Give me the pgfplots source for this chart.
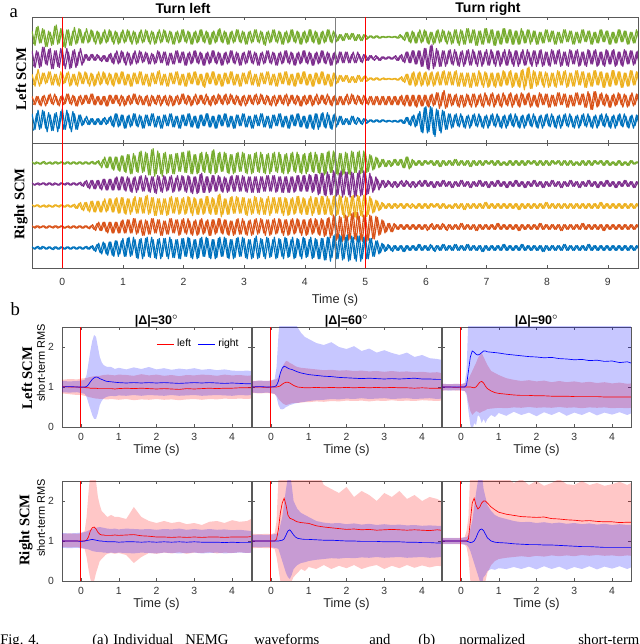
\documentclass[border=0pt]{standalone}
\usepackage{fontspec}
\setmainfont{Liberation Sans}
\newfontfamily\tnr{Liberation Serif}
\usepackage{pgfplots}
\usepackage{pgfplotstable}
\pgfplotsset{compat=1.18}
\usepgfplotslibrary{fillbetween}

\definecolor{cg}{rgb}{0.466,0.674,0.188}
\definecolor{cp}{rgb}{0.494,0.184,0.556}
\definecolor{cy}{rgb}{0.929,0.694,0.125}
\definecolor{co}{rgb}{0.850,0.325,0.098}
\definecolor{cb}{rgb}{0,0.447,0.741}

% EMG traces (px about each baseline), Left SCM; second set sits half a step later
\pgfplotstableread{
t gr pu ye or bl g2 p2 y2 o2 b2
-0.50 5 6 4 3 6 -6 -7 -5 -4 -8
-0.45 -7 -8 -6 -4 -7 8 6 4 3 6
-0.40 9 5 8 3 9 -5 -8 -6 -4 -7
-0.35 -5 -7 -4 -5 -6 7 9 5 3 9
-0.30 6 9 5 4 8 -8 -5 -4 -5 -6
-0.25 -8 -6 -3 -3 -9 5 7 6 4 7
-0.20 4 8 6 5 5 -7 -9 -5 -3 -8
-0.15 -6 -9 -5 -4 -8 9 6 4 5 6
-0.10 10 6 4 3 7 -6 -7 -5 -4 -9
-0.05 -5 -8 -6 -5 -6 7 8 6 3 8
0.00 7 7 5 4 10 -8 -6 -4 -4 -7
0.05 -9 -9 -3 -3 -7 6 8 5 5 9
0.10 6 5 6 5 6 -7 -9 -6 -3 -6
0.15 -7 -8 -5 -4 -9 5 6 4 4 8
0.20 8 7 4 3 6 -6 -8 -5 -5 -7
0.25 -5 -6 -6 -5 -7 7 5 6 3 5
0.30 6 8 5 4 5 -5 -6 -4 -4 -4
0.35 -5 -4 -4 -3 -3 4 3 6 4 2
0.40 7 3 5 4 4 -5 -2 -4 -3 -3
0.45 -4 -2 -6 -3 -3 6 3 5 5 2
0.50 5 3 4 5 2 -4 -2 -6 -4 -3
0.55 -6 -2 -5 -4 -3 5 3 4 3 2
0.60 4 2 6 3 2 -6 -2 -5 -4 -3
0.65 -5 -3 -4 -4 -3 4 2 6 3 2
0.70 6 2 5 3 3 -5 -3 -4 -5 -3
0.75 -4 -3 -5 -5 -2 6 3 5 4 3
0.80 5 4 4 4 4 -4 -4 -5 -3 -4
0.85 -6 -5 -6 -3 -5 5 4 5 4 6
0.90 4 6 5 4 6 -6 -5 -4 -3 -5
0.95 -5 -4 -4 -5 -4 4 6 6 4 5
1.00 6 5 6 3 5 -5 -4 -5 -5 -6
1.05 -4 -6 -5 -4 -6 6 5 4 3 4
1.10 5 4 4 4 5 -4 -6 -6 -4 -5
1.15 -6 -5 -6 -3 -4 5 4 5 5 6
1.20 4 6 5 5 6 -6 -5 -4 -3 -4
1.25 -5 -4 -4 -4 -5 4 6 6 4 5
1.30 6 5 6 3 4 -5 -4 -5 -4 -6
1.35 -4 -3 -5 -4 -6 6 5 4 3 5
1.40 5 4 4 4 5 -4 -5 -6 -5 -4
1.45 -6 -5 -6 -5 -4 5 4 5 4 6
1.50 4 3 5 3 6 -6 -5 -4 -3 -5
1.55 -5 -4 -4 -4 -5 4 6 6 4 4
1.60 6 5 7 4 4 -5 -4 -5 -5 -6
1.65 -4 -4 -5 -3 -6 6 5 4 3 5
1.70 5 5 4 4 5 -4 -6 -6 -4 -4
1.75 -5 -6 -6 -5 -4 5 4 5 4 6
1.80 4 4 5 3 6 -6 -5 -4 -5 -5
1.85 -6 -5 -4 -4 -5 4 6 6 3 4
1.90 5 6 6 4 4 -5 -4 -5 -4 -6
1.95 -4 -4 -5 -3 -6 6 5 4 5 5
2.00 6 5 4 5 5 -4 -6 -6 -3 -4
2.05 -5 -6 -6 -4 -4 5 4 5 4 6
2.10 4 5 5 3 6 -6 -5 -4 -5 -5
2.15 -6 -4 -4 -4 -5 4 6 6 3 4
2.20 5 6 6 5 4 -5 -4 -5 -4 -6
2.25 -4 -5 -5 -3 -6 6 5 4 4 5
2.30 6 4 4 4 5 -4 -6 -6 -3 -4
2.35 -5 -6 -7 -4 -4 5 4 5 5 6
2.40 4 5 5 3 6 -6 -5 -4 -4 -5
2.45 -6 -4 -4 -5 -5 4 6 6 3 4
2.50 5 6 6 4 4 -5 -4 -5 -4 -6
2.55 -4 -5 -5 -3 -6 6 5 4 5 5
2.60 7 4 4 4 5 -4 -6 -6 -3 -4
2.65 -5 -6 -6 -4 -4 5 4 5 4 6
2.70 4 5 5 5 6 -6 -5 -4 -4 -5
2.75 -6 -4 -4 -3 -5 4 6 6 5 4
2.80 5 6 6 4 4 -5 -4 -5 -3 -6
2.85 -4 -5 -5 -4 -6 6 5 4 4 5
2.90 6 4 4 3 5 -4 -6 -6 -4 -4
2.95 -5 -6 -6 -5 -4 5 4 5 3 6
3.00 4 5 5 4 6 -6 -5 -4 -5 -5
3.05 -6 -4 -4 -3 -5 4 6 6 4 4
3.10 5 6 7 4 4 -5 -4 -5 -3 -6
3.15 -4 -5 -5 -4 -6 6 5 4 4 5
3.20 6 4 4 5 5 -4 -6 -6 -4 -4
3.25 -5 -6 -6 -3 -4 5 4 5 5 6
3.30 4 5 5 4 6 -6 -5 -4 -3 -5
3.35 -7 -4 -4 -4 -5 4 6 6 4 4
3.40 5 6 6 3 4 -5 -4 -5 -4 -6
3.45 -4 -5 -5 -5 -6 6 5 4 3 5
3.50 6 4 4 4 5 -4 -6 -6 -5 -4
3.55 -5 -6 -6 -3 -4 5 4 5 4 6
3.60 4 5 5 4 6 -6 -5 -4 -3 -5
3.65 -6 -4 -4 -4 -5 4 6 6 4 4
3.70 5 6 6 5 4 -5 -4 -5 -5 -6
3.75 -4 -5 -5 -3 -6 6 5 4 4 5
3.80 6 4 4 4 5 -4 -6 -6 -3 -4
3.85 -5 -6 -6 -4 -4 5 4 5 4 6
3.90 4 5 5 3 6 -6 -5 -4 -5 -5
3.95 -6 -4 -4 -5 -5 4 6 6 3 4
4.00 5 6 6 4 4 -5 -4 -5 -4 -6
4.05 -4 -5 -5 -3 -6 6 5 4 4 5
4.10 6 4 4 4 5 -4 -6 -6 -5 -6
4.15 -5 -6 -6 -4 -7 5 4 5 3 6
4.20 4 5 5 5 6 -6 -5 -4 -4 -7
4.25 -6 -4 -4 -3 -5 4 6 6 4 6
4.30 5 6 6 4 7 -5 -4 -5 -3 -5
4.35 -4 -5 -5 -4 -6 6 5 4 5 7
4.40 6 4 4 3 5 -4 -6 -6 -4 -6
4.45 -5 -6 -6 -5 -7 5 4 5 3 5
4.50 4 5 5 4 6 -4 -5 -4 -4 -5
4.55 -3 -4 -3 -4 -3 2 5 3 3 4
4.60 2 5 3 3 4 -3 -4 -2 -4 -3
4.65 -3 -4 -2 -4 -3 3 5 3 3 2
4.70 3 5 3 5 2 -2 -4 -3 -4 -3
4.75 -2 -4 -3 -3 -3 3 3 2 5 4
4.80 3 5 2 4 4 -3 -4 -3 -3 -2
4.85 -3 -4 -3 -4 -3 2 5 3 4 3
4.90 2 3 3 3 2 -3 -3 -2 -3 -2
4.95 -3 -4 -2 -4 -3 2 3 2 4 2
5.00 2 3 3 3 2 -2 -2 -2 -3 -2
5.05 -1 -2 -1 -4 -1 1 2 1 3 1
5.10 1 2 1 3 1 -1 -1 -1 -4 -1
5.15 -1 -2 -1 -4 -1 1 2 1 3 1
5.20 1 1 1 3 1 -1 -2 -1 -4 -1
5.25 -1 -2 -1 -4 -1 0.5 1 0.5 3 1
5.30 0.5 1 1 3 1 -0.5 -1 -0.5 -4 -0.5
5.35 -0.5 -1 -0.5 -4 -1 0.5 1 0.5 3 0.5
5.40 0.5 1 0.5 3 0.5 -0.5 -1 -0.5 -4 -0.5
5.45 -0.5 -1 -0.5 -4 -1 0.5 1 0.5 3 0.5
5.50 0.5 2 0.5 3 0.5 -1 -2 -1 -4 -1
5.55 -1 -2 -1 -4 -1 2 2 1 3 1
5.60 1 3 2 4 1 -2 -3 -2 -4 -2
5.65 -3 -4 -3 -5 -2 4 5 4 4 3
5.70 4 5 4 4 3 -4 -4 -5 -5 -3
5.75 -5 -4 -5 -5 -4 5 6 5 4 4
5.80 4 6 6 4 5 -5 -5 -6 -5 -5
5.85 -5 -5 -5 -6 -4 4 6 5 4 6
5.90 6 6 6 4 8 -5 -7 -6 -5 -9
5.95 -4 -7 -5 -5 -10 6 8 5 4 11
6.00 5 8 6 4 12 -5 -9 -6 -5 -10
6.05 -6 -10 -5 -6 -9 4 10 5 4 12
6.10 4 11 6 5 11 -6 -9 -6 -5 -11
6.15 -5 -7 -5 -4 -13 5 8 5 6 10
6.20 6 6 6 6 9 -5 -7 -5 -7 -8
6.25 -4 -7 -5 -5 -10 6 6 6 6 9
6.30 5 6 7 8 8 -4 -7 -5 -7 -7
6.35 -6 -5 -5 -6 -7 5 6 6 5 6
6.40 4 7 6 5 6 -6 -5 -5 -5 -6
6.45 -5 -6 -5 -4 -5 6 7 6 4 5
6.50 6 5 7 5 6 -5 -6 -6 -5 -4
6.55 -7 -7 -6 -6 -5 6 5 5 4 6
6.60 5 6 5 4 4 -6 -7 -6 -6 -5
6.65 -6 -5 -6 -5 -6 7 6 5 5 4
6.70 7 7 5 4 5 -5 -6 -7 -4 -6
6.75 -5 -6 -7 -6 -4 6 7 5 5 5
6.80 6 5 5 5 6 -7 -5 -6 -6 -4
6.85 -7 -7 -6 -4 -5 5 6 7 4 6
6.90 5 6 5 5 4 -6 -7 -5 -5 -5
6.95 -6 -5 -7 -6 -6 7 5 6 6 4
7.00 7 7 5 4 5 -5 -6 -7 -4 -6
7.05 -5 -6 -6 -5 -4 6 7 5 5 5
7.10 6 5 5 6 6 -7 -5 -6 -6 -4
7.15 -7 -7 -7 -4 -5 5 6 5 4 6
7.20 5 6 5 5 4 -6 -7 -6 -5 -5
7.25 -6 -5 -6 -6 -6 7 5 7 6 4
7.30 7 7 6 4 5 -5 -6 -5 -4 -6
7.35 -5 -6 -5 -5 -4 6 7 6 5 5
7.40 6 5 7 6 6 -6 -5 -7 -6 -4
7.45 -6 -7 -6 -4 -5 5 6 5 4 6
7.50 5 6 5 5 4 -6 -7 -6 -5 -5
7.55 -6 -5 -7 -6 -6 7 5 7 6 4
7.60 5 7 8 5 5 -5 -6 -9 -4 -6
7.65 -5 -6 -6 -4 -4 6 7 9 5 5
7.70 6 5 10 6 6 -6 -5 -8 -6 -4
7.75 -4 -7 -8 -5 -5 5 6 7 4 6
7.80 5 6 6 4 4 -6 -7 -6 -5 -5
7.85 -6 -5 -5 -6 -6 4 6 6 6 4
7.90 4 7 6 5 5 -5 -7 -5 -4 -6
7.95 -5 -6 -7 -4 -4 6 5 6 5 5
8.00 6 5 5 5 6 -4 -6 -7 -6 -4
8.05 -4 -7 -6 -6 -5 5 7 5 4 6
8.10 5 6 5 4 4 -6 -5 -6 -5 -5
8.15 -6 -5 -7 -5 -6 4 6 7 6 4
8.20 4 7 6 6 5 -5 -7 -5 -4 -6
8.25 -5 -6 -5 -4 -4 6 5 6 5 5
8.30 6 5 7 5 6 -4 -6 -7 -6 -4
8.35 -4 -7 -6 -6 -5 5 7 5 4 6
8.40 5 6 5 4 4 -6 -5 -6 -5 -5
8.45 -6 -5 -6 -5 -6 4 6 7 6 4
8.50 4 7 7 6 5 -5 -7 -5 -4 -6
8.55 -5 -6 -5 -4 -4 6 5 6 5 5
8.60 6 5 6 5 6 -4 -6 -7 -6 -4
8.65 -4 -7 -7 -6 -5 5 7 5 7 6
8.70 5 6 5 5 4 -6 -5 -6 -8 -5
8.75 -6 -5 -6 -8 -6 4 6 7 7 4
8.80 4 7 7 7 5 -5 -7 -5 -6 -6
8.85 -5 -6 -5 -5 -4 6 5 6 5 5
8.90 6 5 6 6 6 -4 -6 -7 -4 -4
8.95 -4 -7 -7 -5 -5 5 7 5 5 6
9.00 5 6 5 4 4 -6 -5 -6 -6 -5
9.05 -6 -5 -6 -6 -6 4 6 7 4 4
9.10 4 7 7 5 5 -5 -7 -5 -5 -6
9.15 -5 -6 -5 -4 -4 6 5 6 6 5
9.20 6 5 6 5 6 -4 -6 -7 -4 -4
9.25 -4 -7 -7 -6 -5 5 7 5 5 6
9.30 5 6 5 4 4 -6 -5 -6 -6 -5
9.35 -6 -5 -6 -5 -6 4 6 7 4 4
9.40 4 6 7 6 5 -5 -6 -5 -5 -6
9.45 -5 -5 -5 -4 -4 6 5 6 5 5
9.50 5 6 6 5 5 -4 -6 -5 -4 -4
}\topdata

% Right SCM
\pgfplotstableread{
t gr pu ye or bl g2 p2 y2 o2 b2
-0.50 1 1 1 1 1 -1 -1 -1 -0.5 -1
-0.45 -1 -1 -0.5 -1 -1 1 0.5 1 1 1
-0.40 0.5 1 1 1 1.5 -1 -1 -1 -1 -1
-0.35 -1 -0.5 -1 -0.5 -1 1 1 0.5 1 1.5
-0.30 1.5 1 1 1 1 -1 -1 -1 -1 -1
-0.25 -1 -1 -1 -1 -1 0.5 1 1 1 1
-0.20 1 1 0.5 1 1 -1 -1 -1 -0.5 -1
-0.15 -1 -1 -1 -1 -1.5 1 1 1 1 1
-0.10 1 0.5 1 1 1 -1 -1 -0.5 -1 -1
-0.05 -0.5 -1 -1 -0.5 -1 1 1 1 1 1
0.00 1 1 1 1 1 -1 -0.5 -1 -1 -1
0.05 -1 -1 -1 -1 -1 1 1 1 0.5 1
0.10 1 1 1 1 1 -1 -1 -1 -1 -1
0.15 -1 -1 -1 -1 -1 1 1 1 1 1
0.20 1 1 1.5 1 1 -1 -1 -2 -1 -1
0.25 -1 -1 -2 -1 -1 1 1 2 1 1
0.30 1 1.5 3 1 1 -1 -1.5 -3 -1 -1
0.35 -1 -2 -4 -1 -1 1 2 3 1 1
0.40 1 3 3 1 1.5 -1 -3 -4 -1 -1
0.45 -1 -4 -5 -1.5 -1 1 3 4 1 1.5
0.50 1.5 3 4 2 2 -1 -4 -5 -2 -2
0.55 -1 -4 -5 -3 -3 1.5 3 4 3 3
0.60 2 3 4 4 4 -2 -4 -5 -3 -4
0.65 -4 -5 -5 -3 -5 3 4 4 4 5
0.70 5 4 6 4 4 -4 -5 -5 -4 -5
0.75 -4 -5 -4 -5 -6 5 4 6 4 5
0.80 5 4 6 4 5 -5 -5 -5 -5 -6
0.85 -6 -5 -5 -5 -7 5 5 6 4 6
0.90 5 6 7 4 6 -6 -5 -6 -5 -7
0.95 -7 -5 -6 -5 -5 6 6 7 5 6
1.00 6 6 7 6 8 -7 -5 -6 -5 -7
1.05 -8 -6 -7 -5 -7 7 6 6 6 8
1.10 7 5 6 6 9 -9 -6 -7 -5 -7
1.15 -9 -7 -5 -5 -6 8 5 6 7 9
1.20 6 6 8 7 7 -7 -7 -6 -6 -8
1.25 -8 -5 -6 -5 -9 9 6 7 5 7
1.30 10 7 7 6 8 -8 -6 -6 -7 -9
1.35 -7 -6 -6 -7 -7 9 7 8 6 8
1.40 8 5 9 5 9 -10 -6 -7 -6 -7
1.45 -10 -7 -6 -6 -8 11 6 7 7 9
1.50 12 6 7 7 7 -11 -7 -8 -5 -8
1.55 -9 -8 -8 -5 -9 10 7 6 6 7
1.60 8 6 6 6 8 -9 -6 -7 -7 -9
1.65 -11 -7 -7 -7 -7 8 7 6 5 8
1.70 9 6 6 5 8 -9 -6 -8 -6 -7
1.75 -8 -5 -7 -6 -9 7 6 7 7 9
1.80 7 7 8 7 7 -9 -7 -6 -5 -8
1.85 -9 -6 -6 -5 -8 8 5 7 6 7
1.90 8 7 7 6 7 -7 -6 -7 -7 -9
1.95 -7 -5 -6 -6 -9 9 7 6 6 8
2.00 9 6 7 7 8 -8 -6 -7 -5 -7
2.05 -8 -7 -6 -6 -7 10 7 8 7 9
2.10 10 6 7 5 8 -9 -7 -6 -6 -8
2.15 -9 -8 -8 -7 -9 7 6 7 5 7
2.20 7 6 6 6 7 -9 -8 -7 -7 -9
2.25 -8 -7 -7 -6 -8 8 8 6 6 8
2.30 9 9 6 7 9 -7 -7 -7 -6 -7
2.35 -8 -7 -6 -5 -7 9 6 8 5 9
2.40 7 6 8 6 8 -8 -7 -6 -7 -8
2.45 -9 -6 -7 -7 -9 10 7 7 6 7
2.50 11 7 6 6 7 -9 -6 -7 -6 -9
2.55 -8 -6 -7 -5 -8 8 7 9 7 8
2.60 9 6 10 7 9 -7 -6 -9 -5 -7
2.65 -7 -7 -7 -6 -7 9 6 6 6 9
2.70 8 5 6 6 8 -8 -7 -7 -6 -8
2.75 -9 -6 -7 -7 -9 7 6 7 5 7
2.80 7 7 8 5 7 -9 -6 -6 -7 -9
2.85 -8 -6 -6 -6 -8 8 7 8 6 8
2.90 9 7 7 7 9 -7 -6 -6 -6 -7
2.95 -7 -6 -6 -6 -7 9 7 7 7 9
3.00 8 6 7 5 8 -8 -6 -7 -6 -8
3.05 -9 -7 -8 -7 -9 7 6 6 5 7
3.10 7 6 6 6 7 -9 -7 -7 -7 -9
3.15 -8 -7 -6 -6 -8 8 6 8 6 8
3.20 9 6 7 7 10 -7 -7 -6 -6 -9
3.25 -8 -7 -7 -5 -8 9 6 7 7 8
3.30 7 6 6 6 7 -8 -6 -7 -5 -7
3.35 -9 -6 -7 -7 -9 7 7 6 6 9
3.40 8 7 8 6 8 -9 -6 -8 -7 -8
3.45 -7 -6 -6 -6 -7 8 7 7 6 7
3.50 9 7 7 7 9 -7 -7 -6 -6 -9
3.55 -8 -6 -6 -5 -8 9 6 7 7 8
3.60 7 6 7 6 7 -8 -7 -6 -5 -7
3.65 -9 -7 -8 -7 -9 7 6 7 6 9
3.70 8 6 6 6 8 -9 -7 -8 -7 -8
3.75 -7 -7 -7 -6 -7 8 6 6 6 7
3.80 9 6 7 7 9 -7 -7 -7 -6 -9
3.85 -8 -6 -6 -5 -8 9 7 8 7 8
3.90 7 7 8 6 7 -8 -6 -6 -5 -7
3.95 -9 -6 -7 -7 -9 7 7 7 6 9
4.00 8 7 6 6 8 -9 -6 -7 -7 -8
4.05 -7 -6 -7 -6 -7 8 8 6 6 7
4.10 9 7 8 7 9 -7 -7 -8 -6 -9
4.15 -8 -6 -6 -5 -8 9 8 7 7 8
4.20 7 8 7 6 7 -8 -9 -7 -6 -9
4.25 -9 -8 -7 -7 -9 8 9 8 7 8
4.30 8 9 8 6 8 -10 -9 -7 -8 -10
4.35 -9 -10 -7 -7 -10 9 10 8 7 9
4.40 10 8 6 8 9 -8 -9 -7 -9 -11
4.45 -8 -9 -8 -7 -8 10 11 8 10 10
4.50 9 10 9 9 11 -9 -10 -8 -11 -9
4.55 -10 -9 -7 -10 -9 8 9 9 9 11
4.60 8 11 8 8 10 -10 -11 -7 -12 -10
4.65 -9 -9 -10 -11 -9 9 10 8 10 9
4.70 8 10 7 9 11 -9 -9 -9 -11 -11
4.75 -10 -11 -8 -10 -10 10 10 8 11 10
4.80 9 9 9 12 9 -8 -11 -9 -10 -9
4.85 -8 -10 -10 -11 -11 9 9 9 12 10
4.90 10 11 8 9 10 -9 -10 -8 -11 -11
4.95 -8 -9 -9 -12 -9 10 11 9 10 9
5.00 9 10 10 10 10 -8 -9 -9 -12 -9
5.05 -7 -8 -7 -11 -9 7 9 8 10 8
5.10 6 6 6 9 8 -6 -7 -6 -10 -7
5.15 -5 -5 -5 -10 -7 5 6 5 9 6
5.20 4 4 4 8 6 -4 -5 -4 -7 -5
5.25 -3 -3 -3 -6 -4 3 3 3 6 4
5.30 3 3 2 5 3 -3 -3 -2 -5 -3
5.35 -3 -2 -2 -4 -2 2 3 2 3 3
5.40 2 2 2 3 2 -3 -2 -2 -4 -2
5.45 -2 -3 -2 -4 -3 3 2 2 3 2
5.50 3 2 2 2 2 -2 -3 -2 -2 -2
5.55 -2 -2 -1 -2 -2 3 2 2 2 2
5.60 3 3 2 2 2 -4 -2 -2 -2 -3
5.65 -4 -2 -2 -2 -3 5 3 2 2 2
5.70 5 2 2 2 2 -5 -2 -1 -2 -2
5.75 -4 -3 -2 -2 -2 3 2 2 2 2
5.80 2 2 1 2 2 -2 -3 -2 -2 -2
5.85 -2 -2 -2 -2 -2 2 2 2 2 3
5.90 2 3 2 2 3 -2 -2 -2 -2 -2
5.95 -2 -2 -2 -2 -2 2 3 2 2 2
6.00 2 3 2 2 2 -1 -2 -2 -3 -2
6.05 -1 -2 -2 -2 -2 2 2 2 2 3
6.10 2 2 2 3 2 -2 -3 -1 -2 -2
6.15 -2 -3 -1 -2 -3 2 2 2 2 2
6.20 2 2 2 2 2 -3 -2 -2 -2 -2
6.25 -3 -2 -2 -2 -2 2 3 2 3 3
6.30 2 3 2 2 3 -2 -2 -2 -2 -2
6.35 -2 -2 -2 -3 -2 2 2 1 2 2
6.40 2 2 1 2 2 -2 -3 -2 -2 -2
6.45 -2 -3 -2 -2 -2 3 2 2 2 3
6.50 3 2 2 2 3 -2 -2 -2 -2 -2
6.55 -2 -2 -2 -2 -2 2 3 2 3 2
6.60 2 3 2 3 2 -2 -2 -3 -2 -2
6.65 -2 -2 -3 -2 -2 2 2 2 2 3
6.70 2 2 2 2 3 -3 -3 -2 -2 -2
6.75 -3 -3 -2 -2 -2 2 2 2 2 2
6.80 2 2 2 2 2 -2 -2 -2 -3 -2
6.85 -2 -2 -2 -3 -2 2 3 2 2 2
6.90 2 3 2 2 2 -2 -2 -2 -2 -3
6.95 -2 -2 -2 -2 -3 2 2 3 2 2
7.00 2 2 3 2 2 -1 -3 -2 -2 -2
7.05 -1 -3 -2 -2 -2 2 2 2 2 2
7.10 2 2 2 2 2 -2 -2 -2 -2 -2
7.15 -2 -2 -2 -2 -2 2 3 2 3 2
7.20 2 3 2 3 2 -2 -2 -2 -2 -2
7.25 -2 -2 -2 -2 -2 1 2 2 2 3
7.30 1 2 2 2 3 -2 -3 -2 -2 -2
7.35 -2 -3 -2 -2 -2 2 2 2 2 2
7.40 2 2 2 2 2 -2 -2 -2 -2 -2
7.45 -2 -2 -2 -2 -2 2 3 2 2 2
7.50 2 3 2 2 2 -2 -2 -3 -3 -2
7.55 -2 -2 -3 -3 -2 2 2 2 2 3
7.60 2 2 2 2 3 -2 -3 -2 -2 -2
7.65 -2 -3 -2 -2 -2 2 2 2 2 2
7.70 2 2 2 2 2 -1 -2 -2 -2 -2
7.75 -1 -2 -2 -2 -2 2 3 2 2 2
7.80 2 3 2 2 2 -2 -2 -2 -2 -2
7.85 -2 -2 -2 -2 -2 2 2 2 3 2
7.90 2 2 2 3 2 -2 -3 -2 -2 -3
7.95 -2 -3 -2 -2 -3 2 2 3 2 2
8.00 2 2 3 2 2 -2 -2 -2 -2 -2
8.05 -2 -2 -2 -2 -2 2 3 2 2 2
8.10 2 3 2 2 2 -1 -2 -2 -2 -2
8.15 -1 -2 -2 -2 -2 2 2 2 2 2
8.20 2 2 2 2 2 -2 -3 -2 -3 -2
8.25 -2 -3 -2 -3 -2 2 2 2 2 3
8.30 2 2 2 2 3 -2 -2 -2 -2 -2
8.35 -2 -2 -2 -2 -2 2 3 2 2 2
8.40 2 3 2 2 2 -2 -2 -2 -2 -2
8.45 -2 -2 -2 -2 -2 1 2 2 2 2
8.50 1 2 2 2 2 -2 -3 -2 -2 -2
8.55 -2 -3 -2 -2 -2 2 2 2 3 2
8.60 2 2 2 3 2 -2 -2 -2 -2 -2
8.65 -2 -2 -2 -2 -2 2 3 2 2 3
8.70 2 3 2 2 3 -2 -2 -2 -2 -2
8.75 -2 -2 -2 -2 -2 2 2 2 2 2
8.80 2 2 2 2 2 -1 -3 -2 -2 -2
8.85 -1 -3 -2 -2 -2 2 2 3 2 2
8.90 2 2 3 2 2 -2 -2 -2 -3 -2
8.95 -2 -2 -2 -3 -2 2 3 2 2 2
9.00 2 3 2 2 2 -2 -2 -2 -2 -2
9.05 -2 -2 -2 -2 -2 1 2 2 2 2
9.10 1 2 2 2 2 -2 -3 -2 -2 -2
9.15 -2 -3 -2 -2 -2 2 2 2 2 2
9.20 2 2 2 2 2 -2 -2 -2 -2 -2
9.25 -2 -2 -2 -2 -2 1 3 2 2 2
9.30 1 3 2 2 2 -2 -2 -2 -2 -2
9.35 -2 -2 -2 -2 -2 2 2 2 2 2
9.40 2 2 2 2 2 -1 -3 -2 -2 -2
9.45 -1 -3 -2 -2 -2 1 2 2 2 2
9.50 1 2 2 2 2 -1 -2 -2 -2 -2
}\botdata

% short-term RMS: mean and band, red = left turn, blue = right turn
\pgfplotstableread{
t rm rl ru bm bl bu
-0.5 1.01 0.84 1.18 1.00 0.87 1.15
-0.3 1.00 0.82 1.20 1.01 0.86 1.14
-0.1 1.00 0.80 1.19 1.00 0.87 1.15
0 0.99 0.80 1.21 1.00 0.85 1.16
0.1 0.99 0.78 1.22 1.00 0.83 1.18
0.15 0.98 0.77 1.22 1.01 0.75 1.30
0.2 0.98 0.75 1.24 1.06 0.60 1.60
0.25 0.97 0.74 1.25 1.13 0.45 1.90
0.3 0.97 0.73 1.26 1.19 0.30 2.15
0.35 0.97 0.72 1.27 1.23 0.20 2.30
0.4 0.97 0.71 1.27 1.25 0.20 2.25
0.45 0.96 0.71 1.28 1.24 0.35 2.00
0.5 0.96 0.70 1.28 1.21 0.55 1.75
0.55 0.96 0.70 1.29 1.19 0.65 1.62
0.6 0.96 0.70 1.30 1.17 0.71 1.55
0.65 0.96 0.69 1.30 1.15 0.74 1.52
0.7 0.96 0.69 1.31 1.14 0.76 1.50
0.8 0.96 0.70 1.30 1.13 0.78 1.50
0.9 0.95 0.69 1.29 1.12 0.77 1.45
1.0 0.96 0.68 1.31 1.11 0.79 1.48
1.2 0.97 0.70 1.30 1.10 0.78 1.44
1.4 0.96 0.67 1.28 1.11 0.80 1.49
1.6 0.97 0.69 1.32 1.10 0.78 1.45
1.8 0.96 0.68 1.29 1.11 0.80 1.50
2.0 0.95 0.70 1.31 1.10 0.79 1.44
2.2 0.96 0.68 1.28 1.11 0.78 1.47
2.4 0.95 0.69 1.30 1.10 0.80 1.43
2.6 0.94 0.67 1.27 1.09 0.78 1.46
2.8 0.96 0.69 1.30 1.10 0.79 1.44
3.0 0.95 0.70 1.29 1.11 0.80 1.47
3.2 0.96 0.68 1.31 1.10 0.78 1.43
3.4 0.97 0.70 1.30 1.11 0.79 1.45
3.6 0.96 0.69 1.28 1.10 0.80 1.42
3.8 0.97 0.71 1.31 1.09 0.79 1.44
4.0 0.97 0.70 1.29 1.10 0.78 1.41
4.2 0.98 0.71 1.30 1.09 0.80 1.40
4.4 0.98 0.70 1.28 1.08 0.79 1.41
4.5 0.98 0.71 1.29 1.08 0.80 1.40
}\tabLa

\pgfplotstableread{
t rm rl ru bm bl bu
-0.5 1.00 0.85 1.15 1.00 0.86 1.14
-0.3 1.00 0.84 1.16 1.01 0.85 1.16
-0.1 0.99 0.85 1.15 1.00 0.86 1.15
0 1.00 0.84 1.16 1.00 0.85 1.16
0.1 1.00 0.82 1.18 1.01 0.83 1.20
0.15 1.00 0.78 1.20 1.04 0.75 1.50
0.2 1.01 0.70 1.25 1.15 0.55 2.30
0.25 1.03 0.65 1.38 1.35 0.45 2.80
0.3 1.07 0.60 1.50 1.47 0.44 2.80
0.35 1.10 0.57 1.58 1.52 0.46 2.80
0.4 1.12 0.55 1.65 1.50 0.50 2.80
0.45 1.12 0.56 1.64 1.47 0.52 2.80
0.5 1.10 0.58 1.60 1.45 0.55 2.80
0.55 1.07 0.59 1.58 1.44 0.56 2.80
0.6 1.04 0.60 1.55 1.42 0.58 2.70
0.65 1.02 0.60 1.52 1.40 0.59 2.60
0.7 1.00 0.60 1.50 1.38 0.60 2.50
0.8 0.99 0.61 1.48 1.35 0.62 2.35
0.9 0.98 0.62 1.47 1.33 0.63 2.25
1.0 0.98 0.62 1.46 1.31 0.65 2.20
1.2 0.99 0.64 1.44 1.29 0.67 2.10
1.4 0.98 0.63 1.42 1.27 0.68 2.05
1.6 0.99 0.65 1.43 1.26 0.70 2.12
1.8 0.98 0.64 1.41 1.24 0.69 2.00
2.0 0.99 0.66 1.42 1.23 0.71 1.95
2.2 0.98 0.65 1.40 1.22 0.70 2.02
2.4 0.99 0.66 1.41 1.21 0.72 1.90
2.6 0.98 0.64 1.39 1.22 0.70 1.96
2.8 0.99 0.66 1.40 1.21 0.71 1.86
3.0 0.98 0.65 1.38 1.20 0.72 1.92
3.2 0.99 0.67 1.40 1.21 0.70 1.85
3.4 0.98 0.65 1.38 1.20 0.71 1.80
3.6 0.98 0.66 1.39 1.21 0.72 1.86
3.8 0.97 0.65 1.37 1.22 0.70 1.75
4.0 0.98 0.67 1.38 1.20 0.71 1.80
4.2 0.97 0.66 1.36 1.20 0.72 1.72
4.4 0.97 0.65 1.37 1.19 0.70 1.70
4.5 0.97 0.66 1.35 1.19 0.71 1.68
}\tabLb

\pgfplotstableread{
t rm rl ru bm bl bu
-0.5 1.00 0.91 1.08 1.00 0.92 1.08
-0.3 1.00 0.92 1.07 1.00 0.91 1.07
-0.1 0.99 0.91 1.08 1.00 0.92 1.08
0 1.00 0.92 1.07 1.00 0.91 1.07
0.1 1.00 0.90 1.09 1.00 0.90 1.10
0.15 1.00 0.85 1.12 1.05 0.80 1.40
0.2 1.00 0.60 1.20 1.40 0.40 2.80
0.25 1.00 0.40 1.30 1.75 0.05 2.80
0.3 0.99 0.30 1.40 1.90 -0.10 2.80
0.35 0.98 0.35 1.50 1.87 0.10 2.80
0.4 1.00 0.40 1.60 1.82 0.05 2.80
0.45 1.06 0.38 1.72 1.80 0.30 2.80
0.5 1.12 0.35 1.80 1.82 0.25 2.80
0.55 1.14 0.38 1.85 1.86 0.10 2.80
0.6 1.10 0.40 1.75 1.90 0.20 2.80
0.65 1.02 0.42 1.65 1.90 0.10 2.80
0.7 0.96 0.45 1.55 1.88 0.20 2.80
0.8 0.90 0.46 1.40 1.87 0.30 2.80
0.9 0.86 0.47 1.35 1.86 0.25 2.80
1.0 0.84 0.48 1.30 1.85 0.35 2.80
1.2 0.82 0.47 1.22 1.82 0.28 2.80
1.4 0.80 0.49 1.18 1.80 0.38 2.80
1.6 0.79 0.48 1.15 1.78 0.30 2.80
1.8 0.79 0.50 1.17 1.76 0.36 2.80
2.0 0.78 0.48 1.14 1.75 0.27 2.80
2.2 0.78 0.49 1.16 1.73 0.37 2.80
2.4 0.77 0.48 1.12 1.74 0.30 2.80
2.6 0.77 0.50 1.15 1.71 0.38 2.80
2.8 0.77 0.48 1.12 1.70 0.28 2.80
3.0 0.76 0.49 1.14 1.68 0.36 2.80
3.2 0.76 0.47 1.11 1.69 0.30 2.80
3.4 0.76 0.49 1.13 1.66 0.38 2.80
3.6 0.76 0.48 1.10 1.67 0.29 2.80
3.8 0.75 0.49 1.12 1.64 0.36 2.80
4.0 0.75 0.47 1.09 1.65 0.31 2.80
4.2 0.75 0.48 1.11 1.61 0.37 2.80
4.4 0.75 0.47 1.08 1.63 0.30 2.80
4.5 0.75 0.48 1.09 1.60 0.34 2.80
}\tabLc

\pgfplotstableread{
t rm rl ru bm bl bu
-0.5 1.00 0.85 1.18 1.00 0.83 1.20
-0.3 1.00 0.84 1.19 1.00 0.82 1.19
-0.1 1.00 0.85 1.18 1.00 0.83 1.20
0 1.00 0.83 1.19 0.99 0.82 1.21
0.1 1.00 0.80 1.25 1.00 0.81 1.22
0.15 1.02 0.60 1.60 1.01 0.80 1.24
0.2 1.10 0.30 2.20 1.02 0.79 1.26
0.25 1.25 0.05 2.70 1.03 0.77 1.28
0.3 1.33 -0.10 2.90 1.04 0.75 1.30
0.35 1.35 0.00 2.80 1.03 0.74 1.32
0.4 1.30 0.20 2.50 1.02 0.73 1.33
0.45 1.22 0.35 2.10 1.01 0.73 1.34
0.5 1.17 0.50 1.90 1.00 0.72 1.35
0.55 1.15 0.55 1.75 1.00 0.72 1.34
0.6 1.15 0.60 1.70 0.99 0.71 1.33
0.65 1.14 0.65 1.65 0.99 0.71 1.32
0.7 1.14 0.68 1.60 0.98 0.70 1.31
0.8 1.14 0.70 1.65 0.98 0.71 1.30
0.9 1.15 0.68 1.60 0.98 0.70 1.31
1.0 1.14 0.70 1.60 0.97 0.71 1.29
1.2 1.15 0.65 1.55 0.98 0.70 1.31
1.4 1.16 0.45 1.85 0.98 0.69 1.30
1.6 1.13 0.60 1.60 0.97 0.71 1.29
1.8 1.12 0.70 1.50 0.98 0.70 1.30
2.0 1.10 0.68 1.45 0.97 0.69 1.28
2.2 1.10 0.71 1.50 0.98 0.71 1.30
2.4 1.09 0.69 1.45 0.97 0.70 1.29
2.6 1.10 0.72 1.48 0.98 0.69 1.31
2.8 1.09 0.68 1.42 0.97 0.70 1.28
3.0 1.10 0.71 1.45 0.98 0.71 1.30
3.2 1.09 0.70 1.40 0.97 0.69 1.28
3.4 1.10 0.72 1.48 0.97 0.70 1.30
3.6 1.10 0.69 1.50 0.97 0.71 1.28
3.8 1.09 0.71 1.45 0.96 0.69 1.29
4.0 1.10 0.70 1.52 0.97 0.70 1.27
4.2 1.10 0.72 1.48 0.96 0.71 1.28
4.4 1.10 0.70 1.50 0.96 0.70 1.26
4.5 1.11 0.71 1.55 0.96 0.70 1.25
}\tabRa

\pgfplotstableread{
t rm rl ru bm bl bu
-0.5 1.00 0.82 1.18 1.00 0.85 1.15
-0.3 1.00 0.83 1.17 1.00 0.84 1.16
-0.1 1.00 0.82 1.18 1.00 0.85 1.15
0 1.00 0.83 1.17 1.00 0.84 1.16
0.1 1.00 0.80 1.20 1.00 0.83 1.17
0.15 1.05 0.60 1.50 1.00 0.82 1.18
0.2 1.30 0.30 2.60 1.00 0.80 1.20
0.25 1.70 0.00 2.80 1.01 0.65 1.40
0.3 1.95 -0.20 2.80 1.02 0.50 1.60
0.35 2.07 -0.20 2.80 1.05 0.35 1.95
0.4 1.90 -0.20 2.80 1.15 0.20 2.30
0.45 1.65 -0.20 2.80 1.25 0.10 2.60
0.5 1.57 -0.10 2.80 1.28 0.05 2.70
0.55 1.55 0.00 2.80 1.22 0.15 2.40
0.6 1.53 0.10 2.80 1.15 0.30 2.00
0.65 1.50 0.15 2.80 1.10 0.35 1.90
0.7 1.48 0.20 2.80 1.07 0.40 1.80
0.8 1.46 0.30 2.80 1.05 0.45 1.70
0.9 1.45 0.25 2.80 1.04 0.47 1.65
1.0 1.44 0.35 2.80 1.04 0.50 1.60
1.2 1.38 0.30 2.80 1.03 0.53 1.50
1.4 1.35 0.40 2.40 1.02 0.55 1.46
1.6 1.33 0.30 2.30 1.02 0.57 1.44
1.8 1.31 0.38 2.20 1.01 0.56 1.45
2.0 1.29 0.32 2.35 1.00 0.58 1.42
2.2 1.30 0.40 2.10 1.00 0.57 1.44
2.4 1.28 0.30 2.25 0.99 0.59 1.41
2.6 1.29 0.36 2.15 0.99 0.58 1.43
2.8 1.27 0.40 2.00 0.99 0.60 1.40
3.0 1.28 0.30 2.20 0.98 0.58 1.42
3.2 1.29 0.38 2.10 0.98 0.59 1.40
3.4 1.28 0.32 2.25 0.98 0.60 1.41
3.6 1.27 0.40 2.05 0.97 0.58 1.39
3.8 1.28 0.33 2.15 0.97 0.59 1.40
4.0 1.27 0.39 2.00 0.96 0.60 1.38
4.2 1.26 0.34 2.10 0.96 0.58 1.39
4.4 1.28 0.38 2.05 0.95 0.59 1.38
4.5 1.27 0.37 2.00 0.95 0.60 1.38
}\tabRb

\pgfplotstableread{
t rm rl ru bm bl bu
-0.5 1.00 0.92 1.08 1.00 0.93 1.07
-0.3 1.00 0.93 1.07 1.00 0.92 1.08
-0.1 1.00 0.92 1.08 1.00 0.93 1.07
0 1.00 0.93 1.07 1.00 0.92 1.08
0.1 1.00 0.91 1.10 1.00 0.91 1.09
0.15 1.00 0.85 1.25 1.00 0.90 1.10
0.2 1.05 0.60 1.60 0.98 0.85 1.15
0.25 1.50 0.00 2.80 0.96 0.75 1.30
0.3 1.95 -0.20 2.80 0.97 0.60 1.50
0.35 2.07 -0.20 2.80 1.00 0.45 1.85
0.4 1.90 -0.20 2.80 1.08 0.30 2.20
0.45 1.80 -0.20 2.80 1.20 0.15 2.50
0.5 1.85 -0.20 2.80 1.28 0.00 2.70
0.55 1.95 -0.20 2.80 1.30 -0.10 2.70
0.6 2.00 -0.10 2.80 1.26 0.10 2.30
0.65 2.00 0.00 2.80 1.17 0.15 2.10
0.7 1.95 0.20 2.80 1.08 0.25 1.90
0.8 1.85 0.40 2.80 1.00 0.30 1.75
0.9 1.78 0.50 2.80 0.97 0.28 1.65
1.0 1.72 0.55 2.80 0.96 0.32 1.60
1.2 1.67 0.58 2.60 0.95 0.30 1.55
1.4 1.64 0.60 2.45 0.93 0.35 1.50
1.6 1.61 0.62 2.55 0.92 0.30 1.47
1.8 1.60 0.60 2.40 0.91 0.36 1.48
2.0 1.59 0.63 2.50 0.91 0.29 1.45
2.2 1.60 0.61 2.38 0.90 0.37 1.47
2.4 1.56 0.64 2.45 0.90 0.30 1.44
2.6 1.55 0.62 2.55 0.89 0.36 1.46
2.8 1.53 0.64 2.42 0.88 0.28 1.43
3.0 1.52 0.62 2.40 0.87 0.35 1.45
3.2 1.50 0.65 2.50 0.86 0.30 1.42
3.4 1.51 0.63 2.40 0.86 0.37 1.44
3.6 1.49 0.65 2.45 0.85 0.29 1.41
3.8 1.48 0.63 2.38 0.84 0.36 1.43
4.0 1.48 0.64 2.42 0.84 0.31 1.40
4.2 1.46 0.62 2.48 0.84 0.37 1.42
4.4 1.47 0.64 2.40 0.84 0.30 1.40
4.5 1.47 0.63 2.45 0.84 0.34 1.40
}\tabRc

\pgfplotsset{
  emg/.style={
    scale only axis, width=454.5pt,
    xmin=-0.5, xmax=9.5, ymin=0,
    ytick=\empty, xtick={0,...,9},
    tick align=inside, major tick length=2.5pt,
    axis line style={black!65}, tick style={black!65},
    ticklabel style={font=\fontsize{7.8}{8}\selectfont, text=black!80},
    xticklabel style={yshift=-4.5pt},
    /pgf/number format/assume math mode=true,
  },
  trace/.style={line width=0.85pt, line join=round},
  rms/.style={
    scale only axis, width=141.75pt, height=75pt,
    xmin=-0.5, xmax=4.5, ymin=0, ymax=2.5,
    xtick={0,...,4}, ytick={0,1,2},
    tick align=inside, major tick length=2pt,
    axis line style={black!65}, tick style={black!65},
    ticklabel style={font=\fontsize{7.8}{8}\selectfont, text=black!80},
    xticklabel style={yshift=-1pt},
    yticklabel style={xshift=-2.5pt},
    xlabel={Time (s)},
    xlabel style={font=\fontsize{9.6}{10}\selectfont, text=black!85,
      at={(axis description cs:0.5,0)}, anchor=north, yshift=-9.75pt},
    title style={font=\bfseries\fontsize{9.4}{10}\selectfont, inner sep=0pt, yshift=-6.2pt},
    /pgf/number format/assume math mode=true,
  },
}

% one trace: two interleaved sample sets about a baseline (values in px, scaled to the panel)
\newcommand{\emgtrace}[5]{%
  \addplot[trace, #1] table[x=t, y expr=1.2*\thisrow{#2}+#4] {#5};
  \addplot[trace, #1] table[x expr=\thisrow{t}+0.025, y expr=1.2*\thisrow{#3}+#4] {#5};
}

\newcommand{\rmsplots}[1]{%
  \addplot[name path=ru, draw=none, forget plot] table[x=t, y=ru] {#1};
  \addplot[name path=rl, draw=none, forget plot] table[x=t, y=rl] {#1};
  \addplot[fill=red, fill opacity=0.22, draw=none, forget plot] fill between[of=ru and rl];
  \addplot[name path=bu, draw=none, forget plot] table[x=t, y=bu] {#1};
  \addplot[name path=bl, draw=none, forget plot] table[x=t, y=bl] {#1};
  \addplot[fill=blue, fill opacity=0.22, draw=none, forget plot] fill between[of=bu and bl];
  \addplot[red, line width=0.8pt, forget plot] coordinates {(0,0) (0,2.5)};
  \addplot[red, line width=0.5pt] table[x=t, y=rm] {#1};
  \addplot[blue, line width=0.5pt] table[x=t, y=bm] {#1};
}

\begin{document}
\begin{tikzpicture}

% ---- panel a
\begin{axis}[emg, height=94.5pt, ymax=126, xticklabels={},
  at={(24pt,375.75pt)}, anchor=south west]
\emgtrace{cg}{gr}{g2}{106}{\topdata}
\emgtrace{cp}{pu}{p2}{85}{\topdata}
\emgtrace{cy}{ye}{y2}{64}{\topdata}
\emgtrace{co}{or}{o2}{43}{\topdata}
\emgtrace{cb}{bl}{b2}{22}{\topdata}
\addplot[red, line width=0.8pt] coordinates {(0,0) (0,126)};
\addplot[red, line width=0.8pt] coordinates {(5,0) (5,126)};
\addplot[black!50, line width=0.7pt] coordinates {(4.5,0) (4.5,126)};
\end{axis}

\begin{axis}[emg, height=93.75pt, ymax=125,
  at={(24pt,282pt)}, anchor=south west,
  xlabel={Time (s)},
  xlabel style={font=\fontsize{9.6}{10}\selectfont, text=black!85,
    at={(axis description cs:0.5,0)}, anchor=north, yshift=-16.5pt}]
\emgtrace{cg}{gr}{g2}{105}{\botdata}
\emgtrace{cp}{pu}{p2}{84}{\botdata}
\emgtrace{cy}{ye}{y2}{62}{\botdata}
\emgtrace{co}{or}{o2}{41}{\botdata}
\emgtrace{cb}{bl}{b2}{20}{\botdata}
\addplot[red, line width=0.8pt] coordinates {(0,0) (0,125)};
\addplot[red, line width=0.8pt] coordinates {(5,0) (5,125)};
\addplot[black!50, line width=0.7pt] coordinates {(4.5,0) (4.5,125)};
\end{axis}

\node[font=\tnr\fontsize{14}{14}\selectfont, anchor=base west] at (3.75pt,469.5pt) {a};
\node[font=\bfseries\fontsize{10.5}{11}\selectfont] at (137.25pt,476.6pt) {Turn left};
\node[font=\bfseries\fontsize{10.5}{11}\selectfont] at (366pt,476.6pt) {Turn right};
\node[font=\tnr\bfseries\fontsize{11}{11}\selectfont, rotate=90] at (15.75pt,423.75pt) {Left SCM};
\node[font=\tnr\bfseries\fontsize{11}{11}\selectfont, rotate=90] at (15.75pt,330pt) {Right SCM};

% ---- panel b, Left SCM
\begin{axis}[rms, at={(46.5pt,162.75pt)}, anchor=south west,
  title={|Δ|=30$^{\circ}$},
  legend style={at={(axis description cs:0.95,0.83)}, anchor=east, draw=none, fill=none,
    legend columns=2, font=\fontsize{7.8}{8}\selectfont, inner sep=0pt,
    /tikz/every even column/.append style={column sep=3pt}},
  legend image code/.code={\draw[#1] (0pt,0pt) -- (13pt,0pt);}]
\rmsplots{\tabLa}
\legend{left,right}
\end{axis}
\begin{axis}[rms, at={(189pt,162.75pt)}, anchor=south west, yticklabels={},
  title={|Δ|=60$^{\circ}$}]
\rmsplots{\tabLb}
\end{axis}
\begin{axis}[rms, at={(331.5pt,162.75pt)}, anchor=south west, yticklabels={},
  title={|Δ|=90$^{\circ}$}]
\rmsplots{\tabLc}
\end{axis}

% ---- panel b, Right SCM
\begin{axis}[rms, at={(46.5pt,47.25pt)}, anchor=south west]
\rmsplots{\tabRa}
\end{axis}
\begin{axis}[rms, at={(189pt,47.25pt)}, anchor=south west, yticklabels={}]
\rmsplots{\tabRb}
\end{axis}
\begin{axis}[rms, at={(331.5pt,47.25pt)}, anchor=south west, yticklabels={}]
\rmsplots{\tabRc}
\end{axis}

\node[font=\tnr\fontsize{14}{14}\selectfont, anchor=base west] at (4.5pt,246pt) {b};
\node[font=\tnr\bfseries\fontsize{11}{11}\selectfont, rotate=90] at (20.25pt,199.5pt) {Left SCM};
\node[font=\fontsize{8.2}{9}\selectfont, rotate=90] at (30.75pt,210.75pt) {short-term RMS};
\node[font=\tnr\bfseries\fontsize{11}{11}\selectfont, rotate=90] at (19.5pt,85.5pt) {Right SCM};
\node[font=\fontsize{8.2}{9}\selectfont, rotate=90] at (30.75pt,94.5pt) {short-term RMS};

% caption, cut by the page edge
\begin{scope}[every node/.style={font=\tnr\fontsize{11}{11}\selectfont, anchor=base west, inner sep=0pt}]
\node at (0pt,-0.75pt) {Fig. 4.};
\node at (69pt,-0.75pt) {(a)};
\node at (84.75pt,-0.75pt) {Individual};
\node at (138.75pt,-0.75pt) {NEMG};
\node at (190.5pt,-0.75pt) {waveforms};
\node at (276.75pt,-0.75pt) {and};
\node at (313.5pt,-0.75pt) {(b)};
\node at (344.25pt,-0.75pt) {normalized};
\node at (433.5pt,-0.75pt) {short-term};
\end{scope}

\pgfresetboundingbox
\useasboundingbox (0,0) rectangle (480pt,483pt);
\end{tikzpicture}
\end{document}
